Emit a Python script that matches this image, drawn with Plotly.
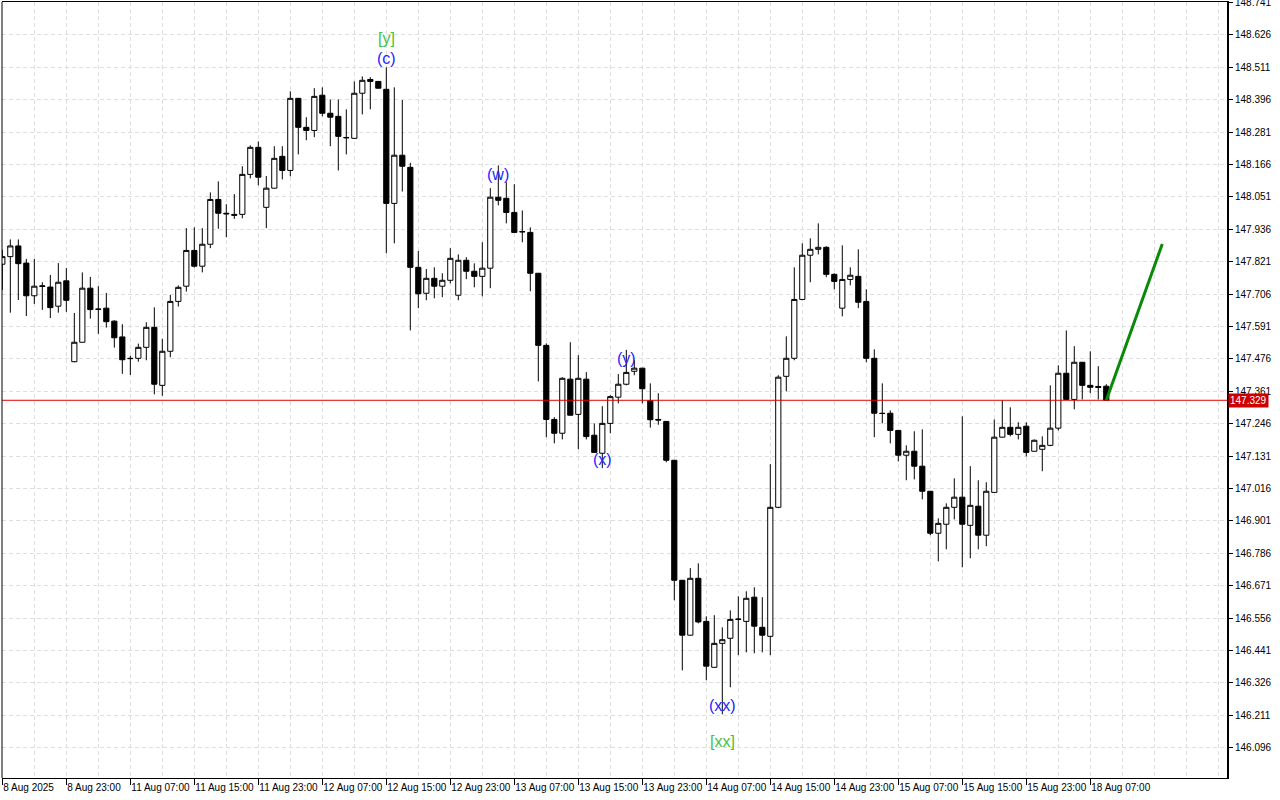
import plotly.graph_objects as go

# ---------------- data (H1 bars) ----------------
opens = [147.812, 147.839, 147.877, 147.816, 147.700, 147.733, 147.731, 147.663, 147.753, 147.466,
         147.535, 147.727, 147.653, 147.656, 147.610, 147.554, 147.478, 147.478, 147.517, 147.588,
         147.382, 147.503, 147.680, 147.734, 147.861, 147.805, 147.883, 148.042, 147.993, 147.989,
         147.989, 148.131, 148.227, 148.014, 148.082, 148.195, 148.145, 148.401, 148.298, 148.287,
         148.412, 148.348, 148.337, 148.262, 148.259, 148.419, 148.468, 148.461, 148.433, 148.028,
         148.199, 148.156, 147.801, 147.709, 147.762, 147.734, 147.755, 147.702, 147.826, 147.787,
         147.769, 147.798, 148.050, 148.046, 147.996, 147.928, 147.925, 147.780, 147.524, 147.261,
         147.212, 147.404, 147.279, 147.404, 147.205, 147.141, 147.247, 147.340, 147.386, 147.432,
         147.443, 147.327, 147.261, 147.254, 147.116, 146.690, 146.495, 146.697, 146.544, 146.381,
         146.466, 146.484, 146.551, 146.544, 146.630, 146.523, 146.491, 146.949, 147.414, 147.478,
         147.687, 147.844, 147.865, 147.872, 147.776, 147.656, 147.758, 147.769, 147.680, 147.478,
         147.283, 147.283, 147.222, 147.134, 147.148, 147.095, 147.006, 146.857, 146.889, 146.949,
         146.985, 146.885, 146.953, 146.850, 147.002, 147.198, 147.233, 147.208, 147.237, 147.148,
         147.155, 147.169, 147.230, 147.425, 147.332, 147.464, 147.382, 147.378, 147.379]

highs = [147.863, 147.900, 147.900, 147.831, 147.831, 147.748, 147.774, 147.816, 147.798, 147.639,
         147.783, 147.767, 147.734, 147.710, 147.613, 147.599, 147.487, 147.530, 147.606, 147.659,
         147.547, 147.703, 147.737, 147.940, 147.943, 147.940, 148.067, 148.106, 148.025, 148.061,
         148.160, 148.234, 148.248, 148.125, 148.231, 148.231, 148.426, 148.402, 148.334, 148.437,
         148.440, 148.397, 148.397, 148.362, 148.461, 148.479, 148.476, 148.462, 148.511, 148.440,
         148.395, 148.172, 147.859, 147.795, 147.801, 147.780, 147.869, 147.847, 147.837, 147.815,
         147.890, 148.082, 148.163, 148.103, 148.096, 148.003, 147.943, 147.781, 147.531, 147.269,
         147.411, 147.535, 147.489, 147.429, 147.247, 147.308, 147.347, 147.422, 147.508, 147.471,
         147.444, 147.389, 147.354, 147.255, 147.117, 146.691, 146.733, 146.750, 146.562, 146.566,
         146.523, 146.583, 146.633, 146.651, 146.665, 146.630, 147.102, 147.418, 147.556, 147.801,
         147.886, 147.904, 147.957, 147.876, 147.780, 147.879, 147.801, 147.865, 147.723, 147.510,
         147.389, 147.293, 147.223, 147.169, 147.219, 147.226, 147.007, 146.910, 146.963, 147.052,
         147.272, 147.095, 147.045, 147.038, 147.261, 147.329, 147.304, 147.251, 147.251, 147.190,
         147.201, 147.382, 147.453, 147.577, 147.521, 147.465, 147.503, 147.450, 147.386]

lows = [147.721, 147.640, 147.685, 147.628, 147.671, 147.650, 147.621, 147.640, 147.643, 147.464,
        147.534, 147.619, 147.565, 147.587, 147.516, 147.423, 147.419, 147.466, 147.471, 147.350,
        147.345, 147.482, 147.662, 147.715, 147.800, 147.783, 147.869, 147.938, 147.908, 147.973,
        147.975, 148.117, 148.092, 147.940, 148.081, 148.113, 148.124, 148.202, 148.252, 148.263,
        148.337, 148.231, 148.145, 148.202, 148.258, 148.344, 148.362, 148.436, 147.851, 147.886,
        148.070, 147.577, 147.656, 147.684, 147.691, 147.695, 147.744, 147.684, 147.759, 147.730,
        147.698, 147.727, 148.021, 147.957, 147.924, 147.890, 147.716, 147.396, 147.198, 147.176,
        147.190, 147.275, 147.155, 147.190, 147.143, 147.088, 147.212, 147.318, 147.382, 147.418,
        147.318, 147.232, 147.242, 147.109, 146.619, 146.370, 146.494, 146.537, 146.335, 146.380,
        146.214, 146.310, 146.424, 146.434, 146.431, 146.434, 146.424, 146.946, 147.361, 147.471,
        147.684, 147.748, 147.847, 147.766, 147.723, 147.627, 147.737, 147.656, 147.464, 147.198,
        147.247, 147.176, 147.112, 147.045, 147.048, 146.977, 146.850, 146.757, 146.800, 146.906,
        146.736, 146.768, 146.800, 146.811, 147.002, 147.197, 147.201, 147.190, 147.130, 147.147,
        147.077, 147.166, 147.222, 147.332, 147.297, 147.332, 147.354, 147.332, 147.329]

closes = [147.839, 147.877, 147.814, 147.700, 147.734, 147.735, 147.658, 147.748, 147.684, 147.535,
          147.727, 147.651, 147.652, 147.608, 147.551, 147.473, 147.477, 147.517, 147.588, 147.386,
          147.503, 147.680, 147.730, 147.861, 147.805, 147.883, 148.042, 147.993, 147.991, 147.986,
          148.131, 148.227, 148.121, 148.082, 148.188, 148.145, 148.401, 148.298, 148.287, 148.408,
          148.348, 148.334, 148.266, 148.261, 148.419, 148.465, 148.461, 148.437, 148.028, 148.199,
          148.160, 147.801, 147.707, 147.762, 147.734, 147.755, 147.833, 147.826, 147.787, 147.769,
          147.798, 148.050, 148.039, 147.996, 147.925, 147.927, 147.780, 147.524, 147.261, 147.212,
          147.407, 147.276, 147.407, 147.200, 147.144, 147.247, 147.342, 147.386, 147.428, 147.443,
          147.370, 147.260, 147.259, 147.116, 146.690, 146.495, 146.697, 146.542, 146.385, 146.466,
          146.479, 146.551, 146.552, 146.626, 146.527, 146.495, 146.949, 147.411, 147.478, 147.687,
          147.844, 147.865, 147.872, 147.776, 147.751, 147.758, 147.773, 147.677, 147.478, 147.283,
          147.282, 147.222, 147.134, 147.148, 147.095, 147.006, 146.857, 146.892, 146.949, 146.985,
          146.889, 146.956, 146.850, 147.006, 147.198, 147.233, 147.208, 147.233, 147.144, 147.187,
          147.169, 147.230, 147.425, 147.332, 147.464, 147.382, 147.375, 147.375, 147.329]

bars = list(range(len(opens)))

x_tick_bars = [0, 8, 16, 24, 32, 40, 48, 56, 64, 72, 80, 88, 96, 104, 112, 120, 128, 136]
x_tick_labels = ["8 Aug 2025", "8 Aug 23:00", "11 Aug 07:00", "11 Aug 15:00", "11 Aug 23:00",
                 "12 Aug 07:00", "12 Aug 15:00", "12 Aug 23:00", "13 Aug 07:00", "13 Aug 15:00",
                 "13 Aug 23:00", "14 Aug 07:00", "14 Aug 15:00", "14 Aug 23:00", "15 Aug 07:00",
                 "15 Aug 15:00", "15 Aug 23:00", "18 Aug 07:00"]

price_ticks = [148.741, 148.626, 148.511, 148.396, 148.281, 148.166, 148.051, 147.936, 147.821,
               147.706, 147.591, 147.476, 147.361, 147.246, 147.131, 147.016, 146.901, 146.786,
               146.671, 146.556, 146.441, 146.326, 146.211, 146.096]
price_tick_labels = ["148.741", "148.626", "148.511", "148.396", "148.281", "148.166", "148.051",
                     "147.936", "147.821", "147.706", "147.591", "147.476", "147.361", "147.246",
                     "147.131", "147.016", "146.901", "146.786", "146.671", "146.556", "146.441",
                     "146.326", "146.211", "146.096"]

current_price = 147.329

wave_labels = ["[y]", "(c)", "(w)", "(y)", "(x)", "(xx)", "[xx]"]
wave_bars = [48, 48, 62, 78, 75, 90, 90]
wave_prices = [148.612, 148.544, 148.129, 147.476, 147.117, 146.244, 146.116]
wave_colors = ["#3fc43f", "#2323ff", "#2323ff", "#2323ff", "#2323ff", "#2323ff", "#3fc43f"]

proj_bars = [138, 145]
proj_prices = [147.329, 147.884]

# ---------------- figure ----------------
GRID = "#dedede"
fig = go.Figure()

fig.add_trace(go.Candlestick(
    x=bars, open=opens, high=highs, low=lows, close=closes,
    increasing=dict(fillcolor="white", line=dict(color="black", width=1)),
    decreasing=dict(fillcolor="black", line=dict(color="black", width=1)),
    whiskerwidth=0, showlegend=False, hoverinfo="skip",
))

fig.add_hline(y=current_price, line=dict(color="#e00000", width=1))

fig.add_trace(go.Scatter(
    x=proj_bars, y=proj_prices, mode="lines",
    line=dict(color="#0a8a0a", width=3), showlegend=False, hoverinfo="skip",
))

for lab, b, p, c in zip(wave_labels, wave_bars, wave_prices, wave_colors):
    fig.add_annotation(x=b, y=p, text=lab, showarrow=False,
                       font=dict(family="Arial", size=16, color=c),
                       xanchor="center", yanchor="middle")

fig.add_annotation(x=1, xref="paper", y=current_price, yref="y", text="147.329",
                   showarrow=False, xanchor="left", yanchor="middle", xshift=1,
                   bgcolor="#cc0000", font=dict(family="Arial", size=10, color="white"),
                   borderpad=1)

# left border line
fig.add_shape(type="line", xref="paper", yref="paper", x0=0, x1=0, y0=0, y1=1,
              line=dict(color="black", width=1))

fig.update_layout(
    width=1280, height=800,
    margin=dict(l=2, r=53, t=2, b=22, autoexpand=False),
    paper_bgcolor="white", plot_bgcolor="white",
    boxgap=0.35, boxgroupgap=0,
    showlegend=False,
    font=dict(family="Arial", size=10, color="black"),
    xaxis=dict(
        range=[-0.04, 153.09],
        tickmode="array", tickvals=x_tick_bars, ticktext=x_tick_labels,
        ticks="outside", ticklen=6, tickcolor="black", tickangle=0,
        ticklabelposition="outside right", automargin=False,
        ticklabeloverflow="allow",
        tickfont=dict(family="Arial", size=10, color="black"),
        showline=True, linecolor="black", linewidth=1, mirror=True,
        showgrid=True, gridcolor=GRID, griddash="4px,3px", gridwidth=1,
        minor=dict(tickmode="linear", tick0=0, dtick=4, showgrid=True,
                   gridcolor=GRID, griddash="4px,3px", ticks=""),
        rangeslider=dict(visible=False),
        zeroline=False, fixedrange=True,
    ),
    yaxis=dict(
        side="right", automargin=False,
        range=[145.988, 148.743],
        tickmode="array", tickvals=price_ticks, ticktext=price_tick_labels,
        ticks="outside", ticklen=4, tickcolor="black",
        ticklabeloverflow="allow",
        tickfont=dict(family="Arial", size=10, color="black"),
        showline=True, linecolor="black", linewidth=2,
        showgrid=True, gridcolor=GRID, griddash="4px,3px", gridwidth=1,
        zeroline=False, fixedrange=True,
    ),
)

fig.write_html("out.html", config={"displayModeBar": False},
               post_script="document.body.style.margin='0';")
